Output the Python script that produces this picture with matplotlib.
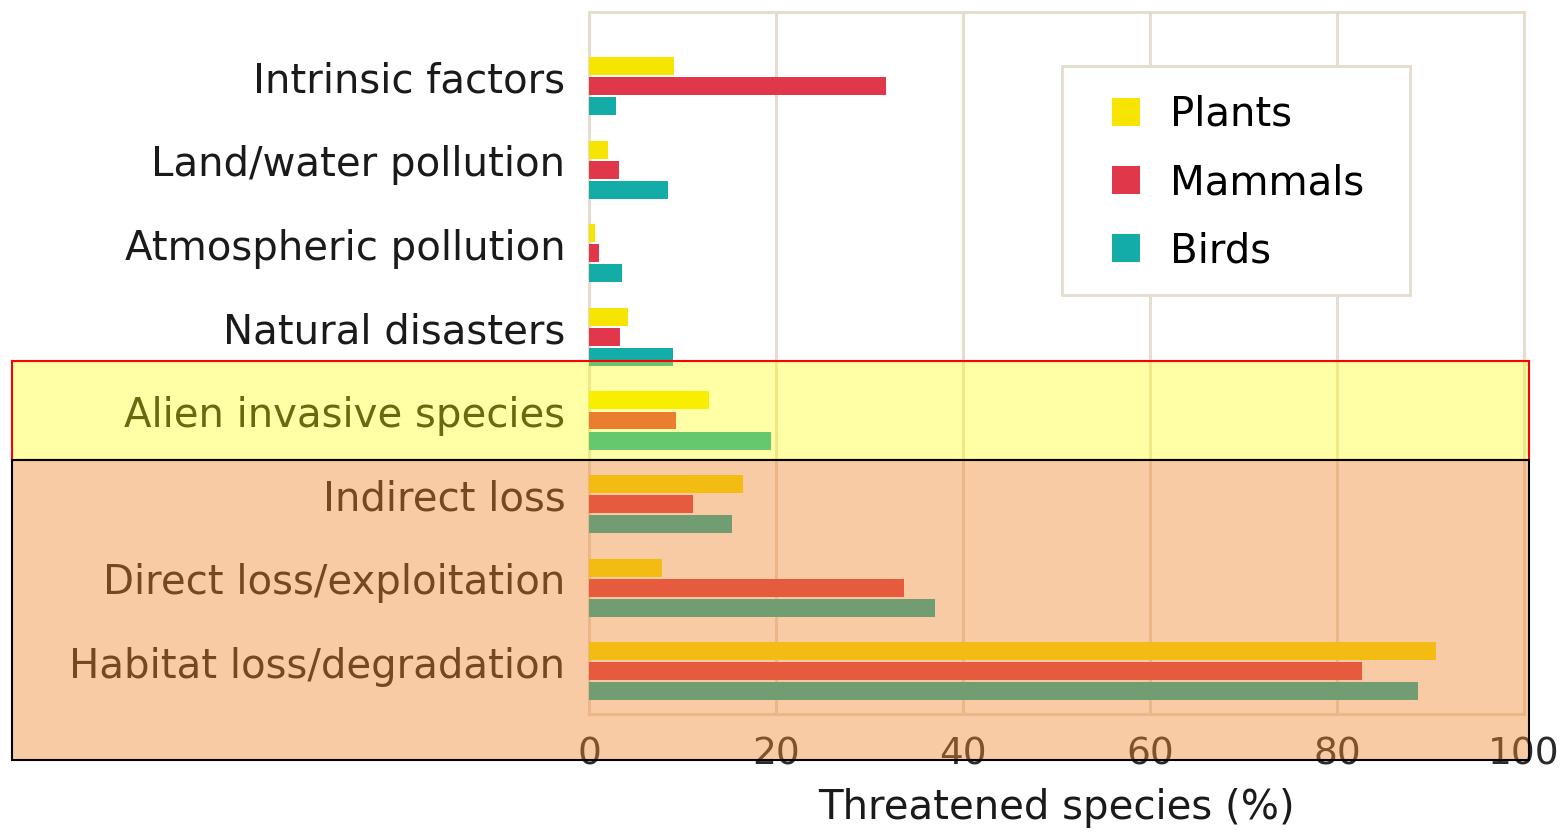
import numpy as np
import matplotlib.pyplot as plt
from matplotlib.patches import Rectangle
from matplotlib.transforms import offset_copy

categories = ['Intrinsic factors', 'Land/water pollution', 'Atmospheric pollution',
              'Natural disasters', 'Alien invasive species', 'Indirect loss',
              'Direct loss/exploitation', 'Habitat loss/degradation']
plants = [9.1, 2.0, 0.6, 4.2, 12.8, 16.5, 7.8, 90.6]
mammals = [31.8, 3.2, 1.1, 3.3, 9.3, 11.1, 33.7, 82.7]
birds = [2.9, 8.4, 3.5, 9.0, 19.5, 15.3, 37.0, 88.7]
series_names = ['Plants', 'Mammals', 'Birds']
series_colors = ['#f5e500', '#e0384a', '#14aca6']

plt.rcParams['font.family'] = ['DejaVu Sans']
W, H = 1563, 834
fig = plt.figure(figsize=(W / 100, H / 100), dpi=100)
ax = fig.add_axes([589 / W, 1 - 714 / H, (1524 - 589) / W, (714 - 12) / H])

y = np.arange(len(categories))
bar_h = 0.215
step = 0.24
for k, (vals, name, col) in enumerate(zip([plants, mammals, birds], series_names, series_colors)):
    ax.barh(y + (k - 1) * step, vals, height=bar_h, color=col, label=name, zorder=3)

ax.set_xlim(0, 100)
ax.set_ylim(7.51, -0.885)
ax.set_yticks(y)
ax.set_yticklabels(categories, fontsize=29, color='#1a1a1a')
ax.set_xticks([0, 20, 40, 60, 80, 100])
ax.tick_params(axis='both', length=0)
ax.tick_params(axis='y', pad=17)
ax.tick_params(axis='x', pad=16, labelsize=27, labelcolor='#2a2a2a')
# category labels sit a little above the group centre
for lab in ax.get_yticklabels():
    lab.set_transform(offset_copy(lab.get_transform(), fig=fig, x=0, y=9, units='dots'))
ax.grid(axis='x', color='#e6dccf', linewidth=2.2, zorder=0)
for s in ax.spines.values():
    s.set_color('#e6dccf')
    s.set_linewidth(2.2)
ax.set_xlabel('Threatened species (%)', fontsize=29, color='#1a1a1a', labelpad=11)

# legend box drawn separately so its padding matches the original
ax.add_patch(Rectangle((1062 / W, 1 - 295 / H), 348 / W, 229 / H, transform=fig.transFigure,
                       facecolor='white', edgecolor='#e6dccf', linewidth=2, zorder=4, clip_on=False))
leg = ax.legend(loc='upper left', bbox_to_anchor=(1112 / W, 1 - 95 / H),
                bbox_transform=fig.transFigure, borderaxespad=0, borderpad=0, fontsize=29,
                frameon=False, handlelength=0.7, handleheight=0.7, handletextpad=0.75,
                labelspacing=0.7)
leg.set_zorder(5)

# highlight boxes drawn over the chart
fig.patches.append(Rectangle((12 / W, 1 - 460 / H), 1517 / W, 99 / H, transform=fig.transFigure,
                             facecolor=(1, 1, 0, 0.35), edgecolor='red', linewidth=1.5, zorder=10))
fig.patches.append(Rectangle((12 / W, 1 - 760 / H), 1517 / W, 300 / H, transform=fig.transFigure,
                             facecolor=(240 / 255, 135 / 255, 45 / 255, 0.43), edgecolor='black',
                             linewidth=1.5, zorder=10))

fig.savefig('out.png', dpi=100)
